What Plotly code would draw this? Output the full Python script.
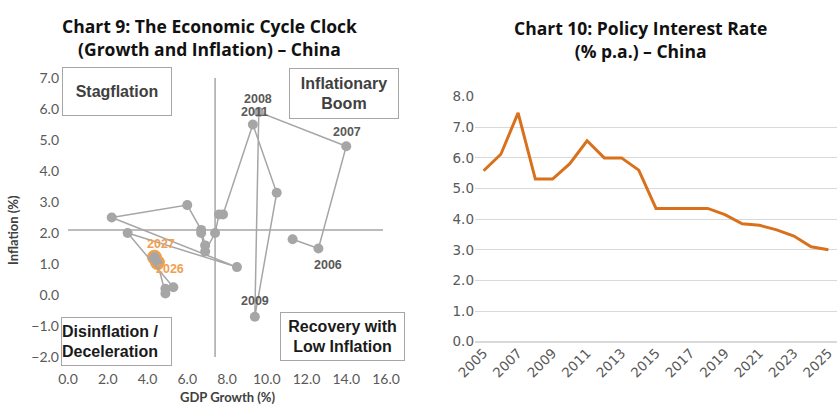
import plotly.graph_objects as go

# ---- Chart 9 data: GDP growth vs inflation (China) ----
years = [2005, 2006, 2007, 2008, 2009, 2010, 2011, 2012, 2013, 2014, 2015,
         2016, 2017, 2018, 2019, 2020, 2021, 2022, 2023, 2024, 2025, 2026, 2027]
gdp_growth = [11.3, 12.6, 14.0, 9.6, 9.4, 10.5, 9.3, 7.8, 7.6, 7.4, 6.9,
              6.7, 6.9, 6.7, 6.0, 2.2, 8.5, 3.0, 5.3, 4.9, 4.9, 4.5, 4.35]
inflation = [1.8, 1.5, 4.8, 5.9, -0.7, 3.3, 5.5, 2.6, 2.6, 2.0, 1.4,
             2.0, 1.6, 2.1, 2.9, 2.5, 0.9, 2.0, 0.25, 0.2, 0.05, 1.05, 1.22]
forecast_years = [2026, 2027]
avg_growth = 7.4
avg_inflation = 2.1

# ---- Chart 10 data: policy interest rate ----
rate_years = list(range(2005, 2026))
policy_rate = [5.58, 6.12, 7.47, 5.31, 5.31, 5.81, 6.56, 6.00, 6.00, 5.60, 4.35,
               4.35, 4.35, 4.35, 4.15, 3.85, 3.80, 3.65, 3.45, 3.10, 3.00]
rate_ticks = list(range(2005, 2026, 2))

W, H = 840, 420
def px(x):
    return x / W
def py(y):
    return 1 - y / H

GRAY = "#A6A6A6"
ORANGE = "#F0A050"
LINE_ORANGE = "#D9711C"
BOXFONT = "Liberation Sans"

fig = go.Figure()

fx = [g for g, yr in zip(gdp_growth, years) if yr in forecast_years]
fy = [v for v, yr in zip(inflation, years) if yr in forecast_years]
fig.add_trace(go.Scatter(x=fx, y=fy, mode="markers",
                         marker=dict(size=15, color=ORANGE),
                         xaxis="x", yaxis="y", showlegend=False, hoverinfo="skip"))
fig.add_trace(go.Scatter(x=gdp_growth, y=inflation, mode="lines+markers",
                         line=dict(color=GRAY, width=1.5),
                         marker=dict(size=10, color=GRAY),
                         text=years, xaxis="x", yaxis="y", showlegend=False))

fig.add_trace(go.Scatter(x=rate_years, y=policy_rate, mode="lines",
                         line=dict(color=LINE_ORANGE, width=3),
                         xaxis="x2", yaxis="y2", showlegend=False))

# reference lines for the clock
fig.add_shape(type="line", xref="x", yref="y", x0=avg_growth, x1=avg_growth,
              y0=-2, y1=7, line=dict(color=GRAY, width=1.5), layer="below")
fig.add_shape(type="line", xref="x", yref="y", x0=0, x1=15.85,
              y0=avg_inflation, y1=avg_inflation, line=dict(color=GRAY, width=1.5), layer="below")

ann = []
# year labels
year_lbl = {2008: (9.56, 6.32), 2011: (9.4, 5.9), 2007: (14.03, 5.26),
            2006: (13.07, 0.98), 2009: (9.4, -0.2)}
for yr, (lx, ly) in year_lbl.items():
    ann.append(dict(x=lx, y=ly, xref="x", yref="y", text=str(yr), showarrow=False,
                    xanchor="center", yanchor="middle",
                    font=dict(family=BOXFONT, size=12.5, color="#595959", weight="bold")))
fc_lbl = {2027: (4.68, 1.66), 2026: (5.13, 0.84)}
for yr, (lx, ly) in fc_lbl.items():
    ann.append(dict(x=lx, y=ly, xref="x", yref="y", text=str(yr), showarrow=False,
                    xanchor="center", yanchor="middle",
                    font=dict(family=BOXFONT, size=12.5, color=ORANGE, weight="bold")))

# quadrant boxes
boxes = [
    ("Stagflation", 62, 67, 172, 116, "center", "#404040"),
    ("Inflationary<br>Boom", 289, 68, 399, 119, "center", "#404040"),
    ("Disinflation /<br>Deceleration", 61, 317, 172, 366, "left", "#1a1a1a"),
    ("Recovery with<br>Low Inflation", 280, 312, 405, 361, "center", "#1a1a1a"),
]
for txt, x0, y0, x1, y1, al, col in boxes:
    ann.append(dict(x=px((x0 + x1) / 2), y=py((y0 + y1) / 2), xref="paper", yref="paper",
                    xanchor="center", yanchor="middle",
                    text=txt, showarrow=False, align=al, width=x1 - x0 - 2, height=y1 - y0 - 2,
                    borderpad=0, bordercolor=GRAY, borderwidth=1, bgcolor="white",
                    font=dict(family=BOXFONT, size=16, color=col, weight="bold")))

# titles
titles = [
    ("Chart 9: The Economic Cycle Clock<br>(Growth and Inflation) – China", 209, 37.5),
    ("Chart 10: Policy Interest Rate<br>(% p.a.) – China", 640, 39.5),
]
for txt, tx, ty in titles:
    ann.append(dict(x=px(tx), y=py(ty), xref="paper", yref="paper", showarrow=False,
                    xanchor="center", yanchor="middle", text=txt,
                    font=dict(family="Open Sans", size=17.5, color="#111111", weight="bold")))
# axis titles
ann.append(dict(x=px(13), y=py(230), xref="paper", yref="paper", showarrow=False,
                xanchor="center", yanchor="middle",
                text="Inflation (%)", textangle=-90,
                font=dict(family="Lato", size=13, color="#404040", weight="bold")))
ann.append(dict(x=px(228), y=py(397), xref="paper", yref="paper", showarrow=False,
                xanchor="center", yanchor="middle",
                text="GDP Growth (%)",
                font=dict(family="Lato", size=13, color="#404040", weight="bold")))

fig.update_layout(
    width=W, height=H, margin=dict(l=0, r=0, t=0, b=0, autoexpand=False),
    paper_bgcolor="white", plot_bgcolor="white",
    annotations=ann,
    xaxis=dict(domain=[px(68), px(386)], range=[0, 16], tickvals=list(range(0, 17, 2)),
               tickformat=".1f", showgrid=False, zeroline=False, showline=False, automargin=False,
               tickfont=dict(family="Lato", size=14, color="#595959"), ticklen=0,
               ticklabelstandoff=12),
    yaxis=dict(domain=[py(357), py(78)], range=[-2, 7], tickvals=list(range(-2, 8)),
               tickformat=".1f", showgrid=False, zeroline=False, showline=False, automargin=False,
               tickfont=dict(family="Lato", size=14, color="#595959"), ticklen=0,
               ticklabelstandoff=8),
    xaxis2=dict(domain=[px(475), px(837)], range=[2004.5, 2025.5], anchor="y2",
                tickvals=rate_ticks, tickangle=-45, showgrid=False, zeroline=False,
                showline=False, automargin=False,
                tickfont=dict(family="DejaVu Sans", size=13.5, color="#595959")),
    yaxis2=dict(domain=[py(341.7), py(96)], range=[0, 8.02], anchor="x2", dtick=1,
                tickformat=".1f", showgrid=True, gridcolor="#D9D9D9", gridwidth=1,
                zeroline=True, zerolinecolor="#D9D9D9", showline=False, automargin=False,
                tickfont=dict(family="DejaVu Sans", size=13.5, color="#595959")),
)

fig.write_html("out.html", config={"displayModeBar": False},
               post_script="document.body.style.margin='0';")
